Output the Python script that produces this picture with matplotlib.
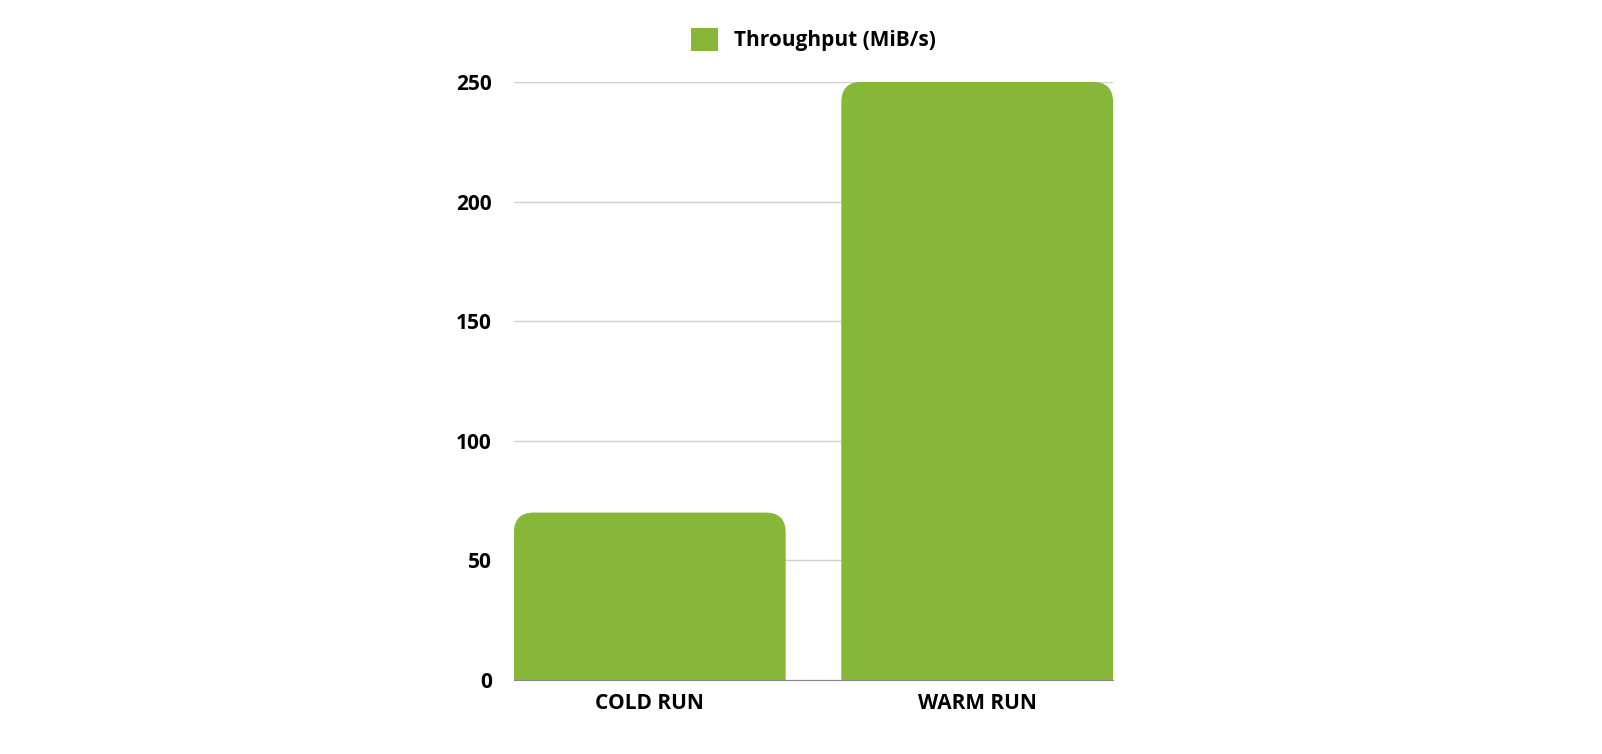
import matplotlib.pyplot as plt
from matplotlib.path import Path
from matplotlib.patches import PathPatch, Patch

categories = ['COLD RUN', 'WARM RUN']
throughput = [70, 250]
series_name = 'Throughput (MiB/s)'
color = '#86b738'

plt.rcParams['font.family'] = ['Open Sans', 'DejaVu Sans']
plt.rcParams['font.weight'] = 'bold'

fig = plt.figure(figsize=(16.02, 7.54), dpi=100)
ax = fig.add_axes([0.3208, 0.0981, 0.374, 0.7931])

width = 0.83
rx, ry = 0.06, 8.4
for i, v in enumerate(throughput):
    x0, x1 = i - width / 2, i + width / 2
    verts = [(x0, 0), (x0, v - ry), (x0, v), (x0 + rx, v),
             (x1 - rx, v), (x1, v), (x1, v - ry), (x1, 0), (x0, 0)]
    codes = [Path.MOVETO, Path.LINETO, Path.CURVE3, Path.CURVE3,
             Path.LINETO, Path.CURVE3, Path.CURVE3, Path.LINETO, Path.CLOSEPOLY]
    ax.add_patch(PathPatch(Path(verts, codes), facecolor=color, edgecolor='none', zorder=3))

ax.set_xlim(-width / 2, 1 + width / 2)
ax.set_ylim(0, 250)
ax.set_yticks(range(0, 251, 50))
ax.set_xticks(range(len(categories)))
ax.set_xticklabels(categories)
ax.grid(axis='y', color='#d0d0d0', linewidth=1, zorder=0)
for s in ['top', 'right', 'left']:
    ax.spines[s].set_visible(False)
ax.spines['bottom'].set_color('#888888')
ax.tick_params(length=0, labelsize=15, pad=9)
ax.tick_params(axis='y', pad=16)

ax.legend(handles=[Patch(facecolor=color, label=series_name)], loc='lower center',
          bbox_to_anchor=(0.5, 1.02), frameon=False, fontsize=15,
          handlelength=1.3, handleheight=1.3)

fig.savefig('out.png')
